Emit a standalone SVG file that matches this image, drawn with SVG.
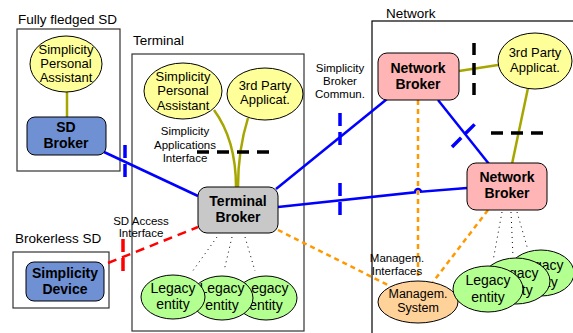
<svg xmlns="http://www.w3.org/2000/svg" width="573" height="333" viewBox="0 0 573 333">
<style>
text{font-family:"Liberation Sans",Arial,sans-serif;fill:#000}
.lbl{font-size:13.5px}
.sm{font-size:11.5px;text-anchor:middle}
.nt{font-size:13px;text-anchor:middle}
.bt{font-size:14px;font-weight:bold;text-anchor:middle}
.lg{font-size:14px;text-anchor:middle}
.box{fill:#fff;stroke:#333;stroke-width:1.2}
.yel{fill:#ffff99;stroke:#000;stroke-width:1}
.grn{fill:#b3ff8f;stroke:#000;stroke-width:1}
.blueb{fill:#7090d4;stroke:#000;stroke-width:1}
.pink{fill:#ffb5b5;stroke:#000;stroke-width:1}
.gray{fill:#c8c8c8;stroke:#000;stroke-width:1}
.org{fill:#ffd29a;stroke:#000;stroke-width:1}
.blue{stroke:#0000ff;stroke-width:2.5;fill:none}
.olive{stroke:#a6a600;stroke-width:2.5;fill:none}
.orange{stroke:#ff9900;stroke-width:2.5;stroke-dasharray:5 4;fill:none}
.red{stroke:#ff0000;stroke-width:2.5;stroke-dasharray:9 6;fill:none}
.dot{stroke:#000;stroke-width:1;stroke-dasharray:1 4;fill:none}
.bmark{stroke:#0000ff;stroke-width:3.5;stroke-dasharray:13 6;fill:none}
.kmark{stroke:#000;stroke-width:3.5;stroke-dasharray:12 8;fill:none}
.rmark{stroke:#ff0000;stroke-width:3.5;stroke-dasharray:13 6;fill:none}
</style>

<g id="containers">
  <rect class="box" x="17" y="29" width="103" height="142"/>
  <text class="lbl" x="18" y="24">Fully fledged SD</text>
  <rect class="box" x="132" y="54" width="172" height="277"/>
  <text class="lbl" x="133" y="45">Terminal</text>
  <rect x="372" y="21" width="220" height="330" fill="#fff" stroke="#000" stroke-width="1.2"/>
  <text class="lbl" x="386" y="18">Network</text>
  <rect class="box" x="13" y="252" width="96" height="56"/>
  <text class="lbl" x="15" y="243">Brokerless SD</text>
</g>

<g id="connectors">
  <path class="olive" d="M67,92 L67,117"/>
  <path class="olive" d="M214,110 Q236,140 236,187"/>
  <path class="olive" d="M248,118 Q238,150 238,187"/>
  <path class="olive" d="M459,71 L498,65"/>
  <path class="olive" d="M528,88 L512,164"/>
  <path class="blue" d="M104,152 L198,196"/>
  <path class="blue" d="M276,189 L387,99"/>
  <path class="blue" d="M278,207 L415,192.3 A3,3 0 0 1 421,191.7 L467,188"/>
  <path class="blue" d="M438,100 L489,164"/>
  <path class="red" d="M108,263 L198,227"/>
  <path class="orange" d="M418,100 L418,280"/>
  <path class="orange" d="M488,210 L433,282"/>
  <path class="orange" d="M278,230 L388,285"/>
  <path class="dot" d="M217,237 L192,272"/>
  <path class="dot" d="M232,237 L224,271"/>
  <path class="dot" d="M245,237 L255,271"/>
  <path class="dot" d="M502,212 L493,261"/>
  <path class="dot" d="M511,212 L513,257"/>
  <path class="dot" d="M517,212 L528,250"/>
  <path class="bmark" d="M125,145 L125,180"/>
  <path class="bmark" d="M340,113 L340,147"/>
  <path class="bmark" d="M340,183 L340,216"/>
  <path class="bmark" d="M452,147 L477,122"/>
  <path class="kmark" d="M197,152 L275,152"/>
  <path class="kmark" d="M474,43 L474,100"/>
  <path class="kmark" d="M491,133 L548,133"/>
  <path class="rmark" d="M123,239 L123,274"/>
</g>

<g id="labels">
  <text class="sm" x="185" y="135">Simplicity</text>
  <text class="sm" x="185" y="149">Applications</text>
  <text class="sm" x="185" y="162">Interface</text>
  <text class="sm" x="340" y="72">Simplicity</text>
  <text class="sm" x="340" y="85">Broker</text>
  <text class="sm" x="340" y="98">Commun.</text>
  <text class="sm" x="141" y="225">SD Access</text>
  <text class="sm" x="141" y="237">Interface</text>
  <text class="sm" x="397" y="262">Managem.</text>
  <text class="sm" x="397" y="275">Interfaces</text>
</g>

<g id="ff-spa">
  <ellipse class="yel" cx="66" cy="64" rx="36" ry="28"/>
  <text class="nt" x="66" y="54">Simplicity</text>
  <text class="nt" x="66" y="68">Personal</text>
  <text class="nt" x="66" y="82">Assistant</text>
</g>
<g id="sd-broker">
  <rect class="blueb" x="27" y="117" width="79" height="38" rx="8"/>
  <text class="bt" x="66" y="132">SD</text>
  <text class="bt" x="66" y="148">Broker</text>
</g>

<g id="t-spa">
  <ellipse class="yel" cx="183" cy="91" rx="39" ry="28"/>
  <text class="nt" x="183" y="81">Simplicity</text>
  <text class="nt" x="183" y="95">Personal</text>
  <text class="nt" x="183" y="110">Assistant</text>
</g>
<g id="t-3rd">
  <ellipse class="yel" cx="265" cy="94" rx="38" ry="26"/>
  <text class="nt" x="265" y="90">3rd Party</text>
  <text class="nt" x="265" y="104">Applicat.</text>
</g>
<g id="terminal-broker">
  <rect class="gray" x="198" y="187" width="80" height="46" rx="9"/>
  <text class="bt" x="238" y="206">Terminal</text>
  <text class="bt" x="238" y="222">Broker</text>
</g>
<g id="t-legacy3">
  <ellipse class="grn" cx="266" cy="298" rx="31" ry="22"/>
  <text class="lg" x="266" y="293">Legacy</text>
  <text class="lg" x="266" y="310">entity</text>
</g>
<g id="t-legacy2">
  <ellipse class="grn" cx="222" cy="298" rx="31" ry="22"/>
  <text class="lg" x="222" y="293">Legacy</text>
  <text class="lg" x="222" y="310">entity</text>
</g>
<g id="t-legacy1">
  <ellipse class="grn" cx="173" cy="297" rx="32" ry="22"/>
  <text class="lg" x="173" y="293">Legacy</text>
  <text class="lg" x="173" y="309">entity</text>
</g>

<g id="simplicity-device">
  <rect class="blueb" x="26" y="262" width="78" height="39" rx="8"/>
  <text class="bt" x="65" y="278">Simplicity</text>
  <text class="bt" x="65" y="294">Device</text>
</g>

<g id="network-broker-1">
  <rect class="pink" x="378" y="53" width="81" height="47" rx="9"/>
  <text class="bt" x="418" y="73">Network</text>
  <text class="bt" x="418" y="89">Broker</text>
</g>
<g id="n-3rd">
  <ellipse class="yel" cx="535" cy="61" rx="37" ry="28"/>
  <text class="nt" x="535" y="57">3rd Party</text>
  <text class="nt" x="535" y="72">Applicat.</text>
</g>
<g id="network-broker-2">
  <rect class="pink" x="467" y="163" width="80" height="47" rx="9"/>
  <text class="bt" x="507" y="182">Network</text>
  <text class="bt" x="507" y="198">Broker</text>
</g>
<g id="mgmt-system">
  <ellipse class="org" cx="418" cy="302" rx="40" ry="21"/>
  <text class="nt" x="418" y="298" style="font-size:12.5px">Managem.</text>
  <text class="nt" x="418" y="312" style="font-size:12.5px">System</text>
</g>
<g id="n-legacy3">
  <ellipse class="grn" cx="541" cy="273" rx="33" ry="23"/>
  <text class="lg" x="541" y="270">Legacy</text>
  <text class="lg" x="541" y="287">entity</text>
</g>
<g id="n-legacy2">
  <ellipse class="grn" cx="516" cy="281" rx="34" ry="23"/>
  <text class="lg" x="516" y="278">Legacy</text>
  <text class="lg" x="516" y="295">entity</text>
</g>
<g id="n-legacy1">
  <ellipse class="grn" cx="488" cy="289" rx="35" ry="23"/>
  <text class="lg" x="488" y="285">Legacy</text>
  <text class="lg" x="488" y="302">entity</text>
</g>
</svg>
